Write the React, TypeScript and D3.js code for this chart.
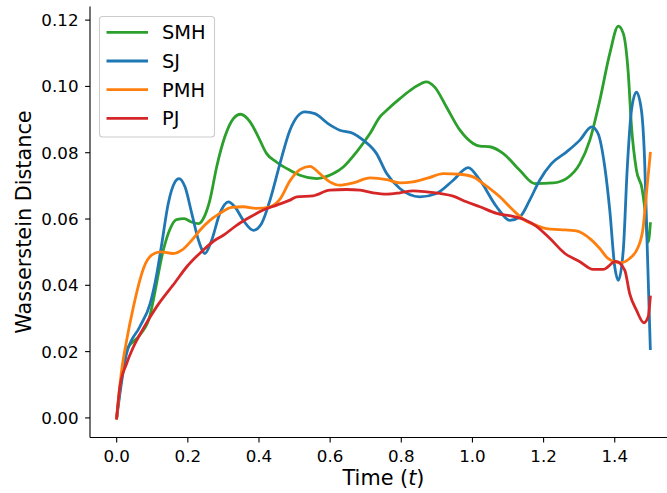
import React from "react";
import * as d3 from "d3";

type Pt = [number, number];

const SERIES_NAMES = ["SMH", "SJ", "PMH", "PJ"];
const SERIES_COLORS = ["#2ca02c", "#1f77b4", "#ff7f0e", "#d62728"];

const SMH: Pt[] = [
  [0, 0], [0.028, 0.0204], [0.065, 0.025], [0.094, 0.031], [0.103, 0.0355], [0.131, 0.0506],
  [0.15, 0.057], [0.168, 0.0598], [0.19, 0.0601], [0.21, 0.0591], [0.23, 0.0586], [0.248, 0.0611],
  [0.262, 0.0657], [0.281, 0.0757], [0.304, 0.0848], [0.328, 0.0903], [0.348, 0.0916], [0.375, 0.0893],
  [0.398, 0.0848], [0.421, 0.0798], [0.449, 0.0772], [0.487, 0.0747], [0.515, 0.0732], [0.562, 0.0722],
  [0.609, 0.0737], [0.637, 0.0757], [0.674, 0.0802], [0.712, 0.0858], [0.74, 0.0908], [0.759, 0.0928],
  [0.796, 0.0963], [0.833, 0.0994], [0.871, 0.1014], [0.894, 0.0998], [0.927, 0.0938], [0.965, 0.0868],
  [1.002, 0.0828], [1.021, 0.082], [1.049, 0.0818], [1.086, 0.0798], [1.133, 0.0747], [1.175, 0.0707],
  [1.227, 0.0709], [1.264, 0.0722], [1.302, 0.0767], [1.33, 0.0838], [1.358, 0.0958], [1.386, 0.1099],
  [1.41, 0.1182], [1.424, 0.116], [1.438, 0.104], [1.447, 0.088], [1.461, 0.0747], [1.477, 0.069],
  [1.485, 0.0627], [1.494, 0.053], [1.5, 0.0586],
];

const SJ: Pt[] = [
  [0, 0], [0.028, 0.0195], [0.065, 0.0275], [0.094, 0.0345], [0.113, 0.0436], [0.126, 0.052],
  [0.145, 0.0647], [0.164, 0.0712], [0.175, 0.0722], [0.192, 0.0697], [0.211, 0.0617], [0.23, 0.0536],
  [0.248, 0.0496], [0.267, 0.0536], [0.29, 0.0617], [0.314, 0.0652], [0.332, 0.0637], [0.356, 0.0596],
  [0.384, 0.0566], [0.407, 0.0586], [0.431, 0.0657], [0.459, 0.0767], [0.487, 0.0868], [0.529, 0.0923],
  [0.557, 0.0918], [0.594, 0.0888], [0.627, 0.0868], [0.665, 0.0858], [0.693, 0.0838], [0.73, 0.0798],
  [0.759, 0.0737], [0.796, 0.0692], [0.852, 0.0667], [0.899, 0.0677], [0.946, 0.0717], [0.988, 0.0755],
  [1.021, 0.0717], [1.068, 0.0637], [1.105, 0.0596], [1.133, 0.0606], [1.161, 0.0657], [1.189, 0.0717],
  [1.222, 0.0767], [1.264, 0.0802], [1.302, 0.0838], [1.335, 0.0878], [1.353, 0.0858], [1.372, 0.0757],
  [1.386, 0.0627], [1.4, 0.0456], [1.41, 0.0415], [1.424, 0.0506], [1.435, 0.075], [1.447, 0.0928],
  [1.461, 0.0983], [1.475, 0.0928], [1.484, 0.0777], [1.491, 0.0527], [1.5, 0.0209],
];

const PMH: Pt[] = [
  [0, 0], [0.014, 0.0144], [0.028, 0.0234], [0.047, 0.0335], [0.065, 0.0415], [0.075, 0.045],
  [0.098, 0.0491], [0.122, 0.0501], [0.159, 0.0496], [0.183, 0.0506], [0.211, 0.0536], [0.234, 0.0566],
  [0.262, 0.0596], [0.29, 0.0617], [0.323, 0.0635], [0.356, 0.0637], [0.393, 0.0632], [0.431, 0.0637],
  [0.459, 0.066], [0.487, 0.0715], [0.515, 0.0749], [0.543, 0.0759], [0.571, 0.0737], [0.599, 0.0712],
  [0.627, 0.0702], [0.665, 0.0709], [0.712, 0.0724], [0.759, 0.0719], [0.796, 0.0709], [0.833, 0.0712],
  [0.876, 0.0724], [0.918, 0.0737], [0.965, 0.0735], [1.002, 0.0727], [1.03, 0.0707], [1.077, 0.0667],
  [1.114, 0.0627], [1.147, 0.0596], [1.18, 0.0581], [1.208, 0.0571], [1.246, 0.0568], [1.292, 0.0564],
  [1.33, 0.0541], [1.358, 0.0511], [1.381, 0.0481], [1.414, 0.0468], [1.442, 0.0481], [1.466, 0.0516],
  [1.48, 0.0576], [1.489, 0.0677], [1.5, 0.0798],
];

const PJ: Pt[] = [
  [0, 0], [0.009, 0.0094], [0.028, 0.0164], [0.047, 0.0214], [0.075, 0.027], [0.112, 0.0335],
  [0.165, 0.041], [0.197, 0.0456], [0.243, 0.0506], [0.276, 0.0536], [0.3, 0.0551], [0.337, 0.0581],
  [0.375, 0.0606], [0.412, 0.0627], [0.45, 0.0642], [0.487, 0.0657], [0.506, 0.0667], [0.552, 0.067],
  [0.599, 0.0687], [0.646, 0.0689], [0.684, 0.0687], [0.721, 0.0679], [0.759, 0.0675], [0.796, 0.0679],
  [0.833, 0.0685], [0.871, 0.0682], [0.908, 0.0677], [0.946, 0.0669], [0.983, 0.0652], [1.021, 0.0637],
  [1.068, 0.0617], [1.114, 0.0608], [1.147, 0.0598], [1.18, 0.0578], [1.218, 0.0541], [1.26, 0.0496],
  [1.302, 0.0471], [1.339, 0.0448], [1.367, 0.0448], [1.403, 0.0472], [1.428, 0.0446], [1.442, 0.0375],
  [1.461, 0.0325], [1.482, 0.0287], [1.494, 0.0305], [1.5, 0.0365],
];

const X_TICKS = [0, 0.2, 0.4, 0.6, 0.8, 1.0, 1.2, 1.4];
const Y_TICKS = [0, 0.02, 0.04, 0.06, 0.08, 0.1, 0.12];
const X_LABEL = "Time (";
const X_LABEL_VAR = "t";
const Y_LABEL = "Wasserstein Distance";

const W = 667;
const H = 493;
const FONT = "'DejaVu Sans', sans-serif";

export default function App() {
  const all = [SMH, SJ, PMH, PJ];
  const left = 90, right = 677, top = 6.5, bottom = 437.5;
  const x = d3.scaleLinear().domain([-0.075, 1.575]).range([left, right]);
  const y = d3.scaleLinear().domain([-0.00591, 0.12411]).range([bottom, top]);
  const line = d3
    .line<Pt>()
    .x((d) => x(d[0]))
    .y((d) => y(d[1]))
    .curve(d3.curveMonotoneX);

  const legX = 99.5, legY = 16.5, legW = 115, legH = 120.5, rowH = 28.7;

  return (
    <div style={{ margin: 0, padding: 0 }}>
      <style>{`body{margin:0;padding:0;background:#fff}`}</style>
      <svg width={W} height={H} viewBox={`0 0 ${W} ${H}`} style={{ display: "block", fontFamily: FONT }}>
        <rect x={0} y={0} width={W} height={H} fill="#fff" />
        {all.map((s, i) => (
          <path
            key={SERIES_NAMES[i]}
            d={line(s) || ""}
            fill="none"
            stroke={SERIES_COLORS[i]}
            strokeWidth={2.8}
            strokeLinejoin="round"
            strokeLinecap="square"
          />
        ))}
        {/* spines */}
        <line x1={left} x2={left} y1={top} y2={bottom} stroke="#000" strokeWidth={1.1} />
        <line x1={left} x2={right} y1={bottom} y2={bottom} stroke="#000" strokeWidth={1.1} />
        {/* x ticks */}
        {X_TICKS.map((t) => (
          <g key={"x" + t}>
            <line x1={x(t)} x2={x(t)} y1={bottom} y2={bottom + 4.9} stroke="#000" strokeWidth={1.1} />
            <text x={x(t)} y={bottom + 24.2} textAnchor="middle" fontSize={16.7} fill="#000">
              {t.toFixed(1)}
            </text>
          </g>
        ))}
        {/* y ticks */}
        {Y_TICKS.map((t) => (
          <g key={"y" + t}>
            <line x1={left - 4.9} x2={left} y1={y(t)} y2={y(t)} stroke="#000" strokeWidth={1.1} />
            <text x={left - 11.5} y={y(t) + 6} textAnchor="end" fontSize={16.7} fill="#000">
              {t.toFixed(2)}
            </text>
          </g>
        ))}
        {/* axis labels */}
        <text x={(left + right) / 2} y={485} textAnchor="middle" fontSize={20.8} fill="#000">
          {X_LABEL}
          <tspan fontStyle="italic">{X_LABEL_VAR}</tspan>
          {")"}
        </text>
        <text
          transform={`translate(31,${(top + bottom) / 2}) rotate(-90)`}
          textAnchor="middle"
          fontSize={20.8}
          fill="#000"
        >
          {Y_LABEL}
        </text>
        {/* legend */}
        <rect x={legX} y={legY} width={legW} height={legH} rx={3} ry={3} fill="#fff" fillOpacity={0.8} stroke="#cccccc" strokeWidth={1.1} />
        {SERIES_NAMES.map((n, i) => (
          <g key={"leg" + n}>
            <line
              x1={106.5}
              x2={148}
              y1={32.3 + i * rowH}
              y2={32.3 + i * rowH}
              stroke={SERIES_COLORS[i]}
              strokeWidth={2.8}
            />
            <text x={162} y={39.3 + i * rowH} fontSize={19.4} fill="#000">
              {n}
            </text>
          </g>
        ))}
      </svg>
    </div>
  );
}
